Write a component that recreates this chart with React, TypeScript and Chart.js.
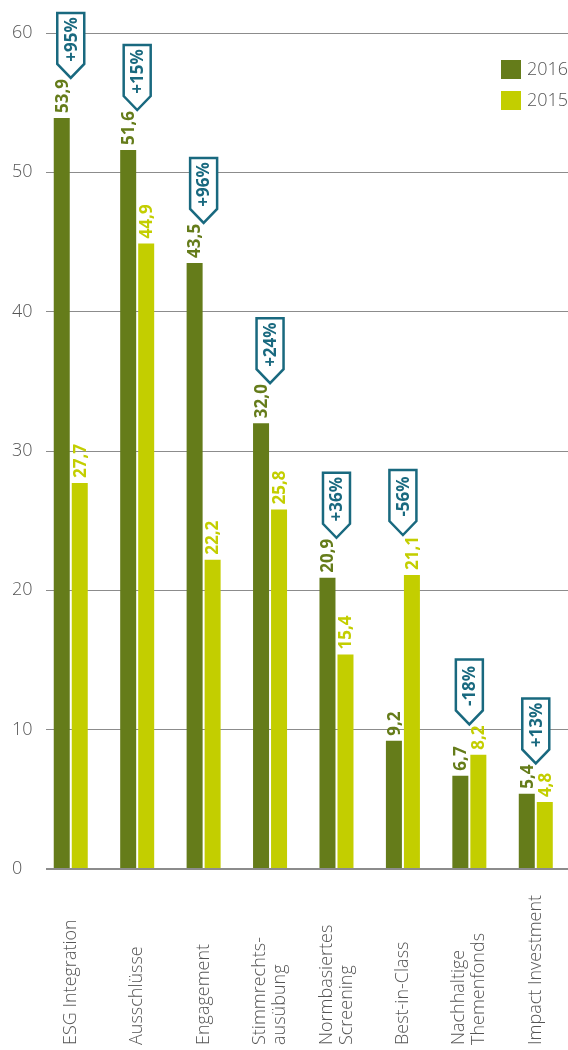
import React, { useEffect, useRef } from "react";
import { Chart, registerables } from "chart.js";

Chart.register(...registerables);

const categories: string[][] = [
  ["ESG Integration"],
  ["Ausschlüsse"],
  ["Engagement"],
  ["Stimmrechts-", "ausübung"],
  ["Normbasiertes", "Screening"],
  ["Best-in-Class"],
  ["Nachhaltige", "Themenfonds"],
  ["Impact Investment"],
];
const values2016: number[] = [53.9, 51.6, 43.5, 32.0, 20.9, 9.2, 6.7, 5.4];
const values2015: number[] = [27.7, 44.9, 22.2, 25.8, 15.4, 21.1, 8.2, 4.8];
const changes: string[] = ["+95%", "+15%", "+96%", "+24%", "+36%", "-56%", "-18%", "+13%"];
const seriesLabels: string[] = ["2016", "2015"];
const yTicks: number[] = [0, 10, 20, 30, 40, 50, 60];

const DARK = "#657c1a";
const LIGHT = "#c3ce00";
const TEAL = "#19697f";
const TEXT = "#555555";
const GRID = "#8c8c8c";
const FONT = "'Open Sans', 'DejaVu Sans', sans-serif";

const fmt = (v: number) => v.toFixed(1).replace(".", ",");

const decorPlugin = {
  id: "decor",
  afterDraw(chart: any) {
    const ctx = chart.ctx as CanvasRenderingContext2D;
    const xScale = chart.scales.x;
    const m0 = chart.getDatasetMeta(0);
    const m1 = chart.getDatasetMeta(1);
    ctx.save();
    // value labels + badges
    categories.forEach((_, i) => {
      let minTop = Infinity;
      [m0, m1].forEach((meta: any, d: number) => {
        const bar = meta.data[i];
        const val = chart.data.datasets[d].data[i].y;
        const txt = fmt(val);
        ctx.save();
        ctx.font = `700 17px ${FONT}`;
        const w = ctx.measureText(txt).width;
        ctx.translate(bar.x, bar.y - 5);
        ctx.rotate(-Math.PI / 2);
        ctx.fillStyle = d === 0 ? DARK : LIGHT;
        ctx.textAlign = "left";
        ctx.textBaseline = "middle";
        ctx.fillText(txt, 0, 1);
        ctx.restore();
        minTop = Math.min(minTop, bar.y - 5 - w);
      });
      const cx = xScale.getPixelForValue(i);
      const tipY = minTop - 1;
      const tipH = 14;
      const rectH = 51;
      const hw = 13.5;
      const top = tipY - tipH - rectH;
      ctx.beginPath();
      ctx.moveTo(cx - hw, top);
      ctx.lineTo(cx + hw, top);
      ctx.lineTo(cx + hw, tipY - tipH);
      ctx.lineTo(cx, tipY);
      ctx.lineTo(cx - hw, tipY - tipH);
      ctx.closePath();
      ctx.fillStyle = "#ffffff";
      ctx.fill();
      ctx.lineWidth = 2.5;
      ctx.lineJoin = "miter";
      ctx.strokeStyle = TEAL;
      ctx.stroke();
      ctx.save();
      ctx.translate(cx, top + rectH / 2 + 1);
      ctx.rotate(-Math.PI / 2);
      ctx.font = `700 17px ${FONT}`;
      ctx.fillStyle = TEAL;
      ctx.textAlign = "center";
      ctx.textBaseline = "middle";
      ctx.fillText(changes[i], 0, 1);
      ctx.restore();
    });
    // category labels (rotated, bottom aligned)
    const lh = 20;
    categories.forEach((lines, i) => {
      const cx = xScale.getPixelForValue(i);
      lines.forEach((line, j) => {
        const off = (j - (lines.length - 1) / 2) * lh;
        ctx.save();
        ctx.translate(cx + off, 1045);
        ctx.rotate(-Math.PI / 2);
        ctx.font = `300 18px ${FONT}`;
        ctx.fillStyle = TEXT;
        ctx.textAlign = "left";
        ctx.textBaseline = "middle";
        ctx.fillText(line, 0, 0);
        ctx.restore();
      });
    });
    // legend
    const colors = [DARK, LIGHT];
    seriesLabels.forEach((lab, k) => {
      const y = 60 + k * 31;
      ctx.fillStyle = colors[k];
      ctx.fillRect(501, y, 20, 19);
      ctx.font = `300 18px ${FONT}`;
      ctx.fillStyle = TEXT;
      ctx.textAlign = "left";
      ctx.textBaseline = "middle";
      ctx.fillText(lab, 527, y + 10);
    });
    ctx.restore();
  },
};

export default function App() {
  const ref = useRef<HTMLCanvasElement | null>(null);
  useEffect(() => {
    if (!ref.current) return;
    const chart = new Chart(ref.current, {
      type: "bar",
      data: {
        datasets: [
          {
            label: seriesLabels[0],
            data: values2016.map((v, i) => ({ x: i, y: v })),
            backgroundColor: DARK,
          },
          {
            label: seriesLabels[1],
            data: values2015.map((v, i) => ({ x: i, y: v })),
            backgroundColor: LIGHT,
          },
        ],
      },
      options: {
        responsive: false,
        animation: false,
        devicePixelRatio: 1,
        categoryPercentage: 0.542,
        barPercentage: 0.889,
        layout: { padding: { top: 33, left: 12, right: 0, bottom: 0 } },
        plugins: { legend: { display: false }, tooltip: { enabled: false } },
        scales: {
          x: {
            type: "linear",
            offset: false,
            min: -0.3726,
            max: 7.485,
            grid: { display: false, offset: false },
            border: { display: false },
            ticks: { display: false },
            afterBuildTicks: (scale: any) => {
              scale.ticks = categories.map((_, i) => ({ value: i }));
            },
            afterFit: (scale: any) => {
              scale.height = 181;
            },
          },
          y: {
            min: 0,
            max: 60,
            afterBuildTicks: (scale: any) => {
              scale.ticks = yTicks.map((v) => ({ value: v }));
            },
            afterFit: (scale: any) => {
              scale.width = 34;
            },
            border: { display: false },
            grid: {
              color: GRID,
              lineWidth: (c: any) => (c.tick && c.tick.value === 0 ? 2 : 1),
              drawTicks: false,
            },
            ticks: {
              crossAlign: "far",
              padding: 8,
              color: TEXT,
              font: { family: FONT, size: 18, weight: "300" },
            },
          },
        },
      },
      plugins: [decorPlugin],
    } as any);
    return () => chart.destroy();
  }, []);
  return (
    <div style={{ position: "absolute", left: 0, top: 0, width: 568, height: 1050 }}>
      <canvas ref={ref} width={568} height={1050} style={{ display: "block" }} />
    </div>
  );
}
